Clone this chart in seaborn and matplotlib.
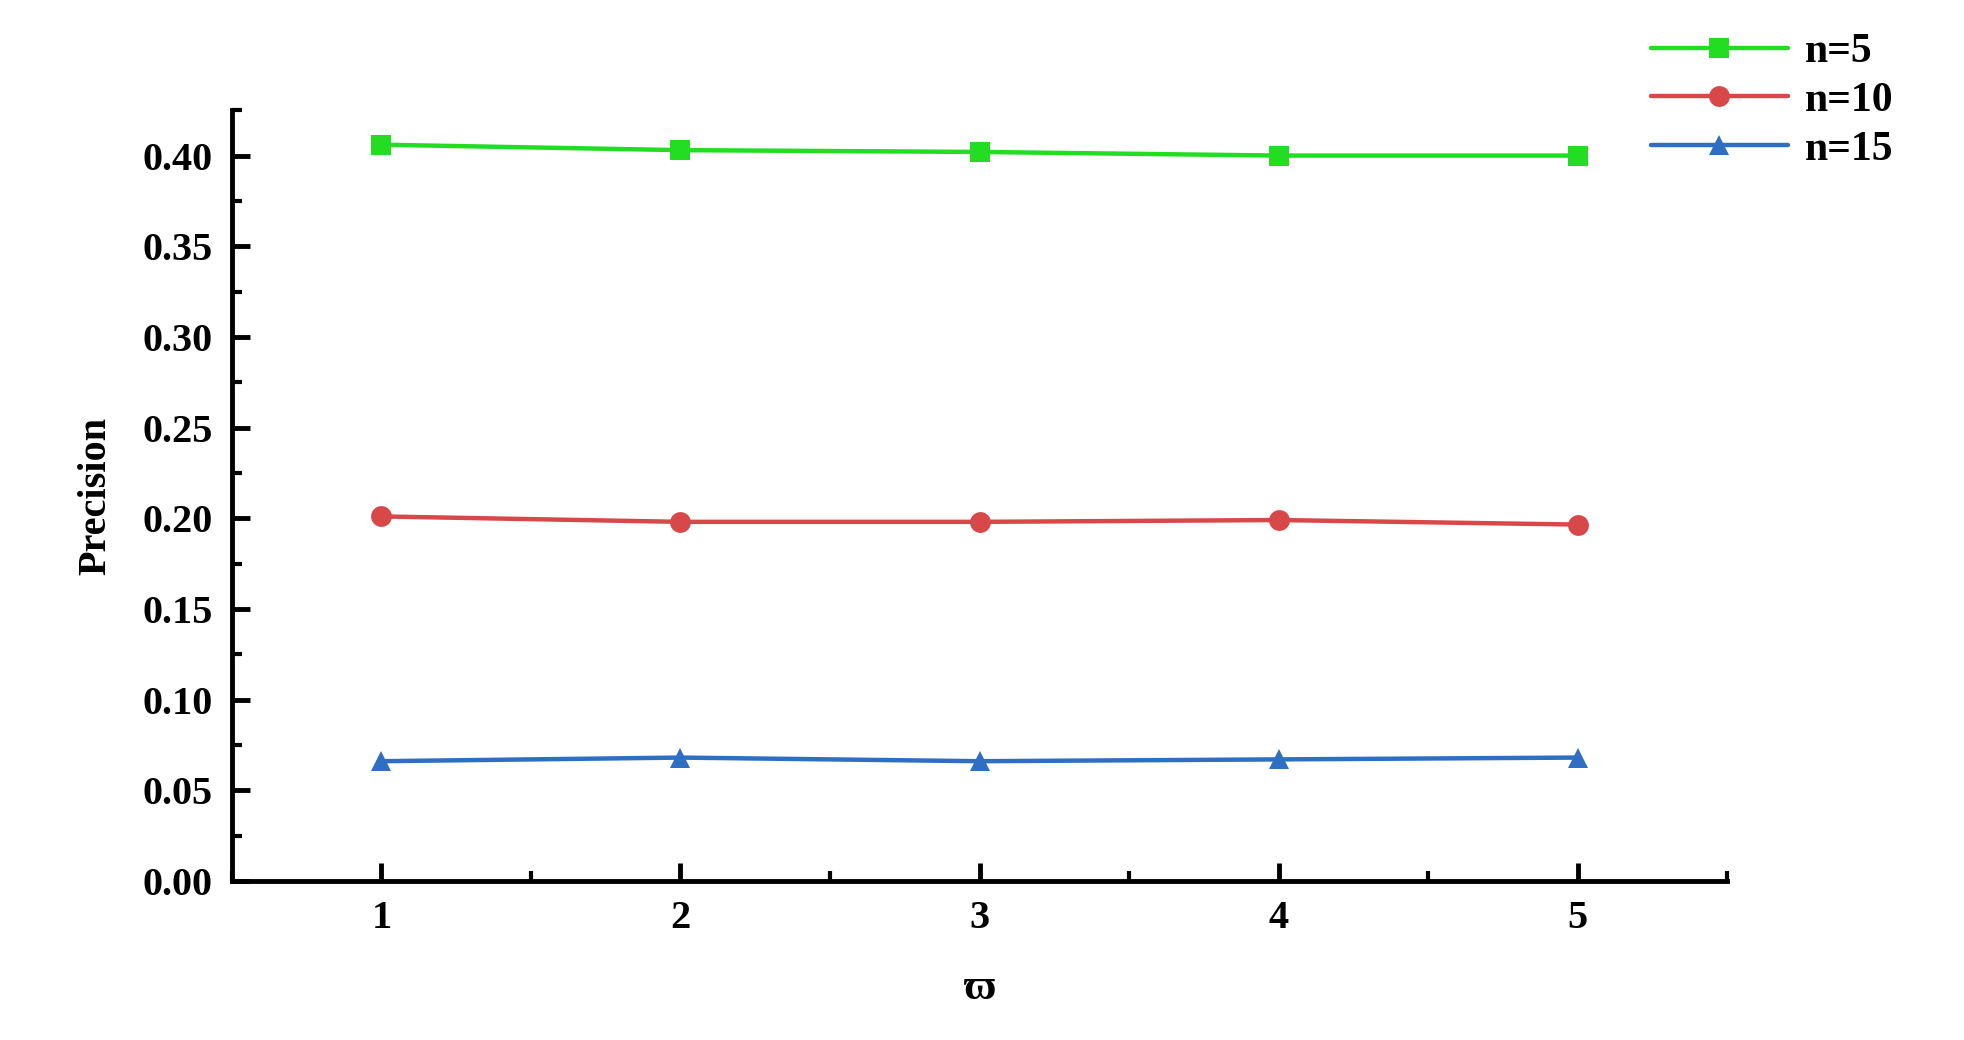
import pandas as pd
import numpy as np
import matplotlib.pyplot as plt
import seaborn as sns
from matplotlib.ticker import MultipleLocator

# values
omega = [1, 2, 3, 4, 5]
prec_n5 = [0.406, 0.403, 0.402, 0.400, 0.400]
prec_n10 = [0.201, 0.198, 0.198, 0.199, 0.1965]
prec_n15 = [0.066, 0.068, 0.066, 0.067, 0.068]
series = ['n=5', 'n=10', 'n=15']

df = pd.DataFrame({
    'omega': omega * 3,
    'precision': prec_n5 + prec_n10 + prec_n15,
    'n': [s for s in series for _ in omega],
})

sns.set_style('ticks')
plt.rcParams['font.family'] = ['Liberation Serif', 'DejaVu Serif']
plt.rcParams['text.color'] = 'black'
plt.rcParams['axes.labelcolor'] = 'black'
plt.rcParams['xtick.color'] = 'black'
plt.rcParams['ytick.color'] = 'black'

fig = plt.figure(figsize=(19.65, 10.4), dpi=100)
ax = fig.add_axes([0.118, 0.153, 0.761, 0.741])

colors = {'n=5': '#22dd22', 'n=10': '#d94848', 'n=15': '#2e6fc4'}
markers = {'n=5': 's', 'n=10': 'o', 'n=15': '^'}
sns.lineplot(data=df, x='omega', y='precision', hue='n', style='n',
             palette=colors, markers=markers, dashes=False,
             linewidth=3.2, markersize=15, markeredgewidth=0, ax=ax)

ax.set_xlim(0.5, 5.5)
ax.set_ylim(0, 0.425)
ax.xaxis.set_major_locator(MultipleLocator(1))
ax.xaxis.set_minor_locator(MultipleLocator(0.5))
ax.yaxis.set_major_locator(MultipleLocator(0.05))
ax.yaxis.set_minor_locator(MultipleLocator(0.025))
ax.yaxis.set_major_formatter(plt.FuncFormatter(lambda v, p: f'{v:.2f}'))

for s in ['top', 'right']:
    ax.spines[s].set_visible(False)
for s in ['left', 'bottom']:
    ax.spines[s].set_linewidth(3.5)
    ax.spines[s].set_color('black')
ax.tick_params(which='major', direction='in', length=13, width=3.5, labelsize=29, pad=14)
ax.tick_params(which='minor', direction='in', length=7, width=3)
for lab in ax.get_xticklabels() + ax.get_yticklabels():
    lab.set_fontweight('bold')

ax.set_xlabel('ϖ', fontsize=32, fontweight='bold', labelpad=22)
ax.set_ylabel('Precision', fontsize=29, fontweight='bold', labelpad=20)

handles, labels = ax.get_legend_handles_labels()
ax.get_legend().remove()
fig.legend(handles, labels, loc='upper left', bbox_to_anchor=(0.84, 0.968),
           frameon=False, handlelength=3.3, handletextpad=0.4, borderpad=0,
           borderaxespad=0, labelspacing=0.25,
           prop={'size': 30, 'weight': 'bold'})

plt.savefig('out.png', dpi=100)
